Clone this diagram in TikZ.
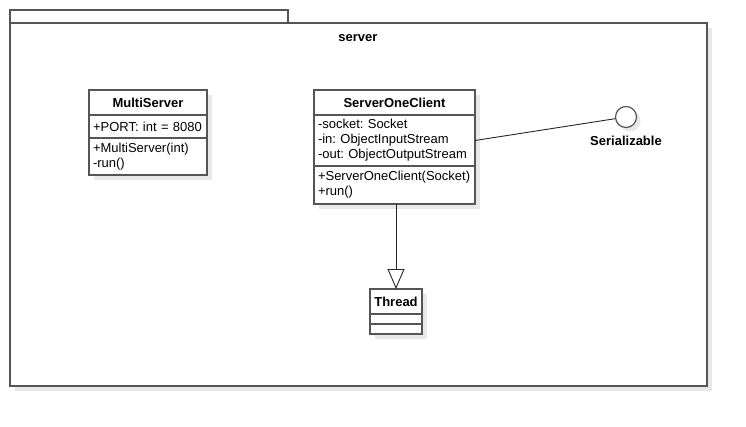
\documentclass[tikz,border=0pt]{standalone}
\usepackage{fontspec}
\setmainfont{Liberation Sans}
\usetikzlibrary{positioning,backgrounds,arrows.meta}

\definecolor{umlgray}{RGB}{85,85,85}
\definecolor{shadegray}{RGB}{232,232,232}

\pgfdeclarelayer{shade}
\pgfsetlayers{background,shade,main}

\tikzset{
  umlbox/.style={draw=umlgray, line width=1.2pt, fill=white, inner sep=0pt, outer sep=0pt},
  classname/.style={umlbox, font=\bfseries, minimum width=#1, minimum height=25pt},
  members/.style={umlbox, align=left, text width=#1, inner xsep=4pt},
  umlline/.style={draw=black!85, line width=0.9pt},
  pkgline/.style={draw=umlgray, line width=1.6pt, fill=white},
  shadow/.style={fill=shadegray, draw=none}
}

\begin{document}
\fontsize{13}{15}\selectfont\frenchspacing
\begin{tikzpicture}[x=1pt, y=-1pt]
  \useasboundingbox (0,0) rectangle (746,426);

% package server
\begin{pgfonlayer}{background}
  \fill[shadow] (15,28) rectangle (712,391);
  \draw[pkgline] (10,10) rectangle (288,23);
  \draw[pkgline] (10,23) rectangle (707,386);
\end{pgfonlayer}
  \node[font=\bfseries] (pkg) at (358,38) {server};

% MultiServer
  \node[classname=118pt] (ms) at (148,102.5) {MultiServer};
  \node[members=110pt, minimum height=23pt, below=0pt of ms] (ms-attr) {+PORT: int = 8080};
  \node[members=110pt, minimum height=37pt, below=0pt of ms-attr] (ms-ops) {+MultiServer(int)\\-run()};

% ServerOneClient
  \node[classname=161pt] (soc) at (394.5,102.5) {ServerOneClient};
  \node[members=153pt, minimum height=51pt, below=0pt of soc] (soc-attr)
    {-socket: Socket\\-in: ObjectInputStream\\-out: ObjectOutputStream};
  \node[members=153pt, minimum height=38pt, below=0pt of soc-attr] (soc-ops)
    {+ServerOneClient(Socket)\\+run()};

% Thread
  \node[classname=52pt] (th) at (396,301.5) {Thread};
  \node[members=44pt, minimum height=10pt, below=0pt of th] (th-attr) {};
  \node[members=44pt, minimum height=10pt, below=0pt of th-attr] (th-ops) {};

% Serializable
  \node[umlbox, circle, minimum size=21pt] (ser) at (626,117) {};
  \node[font=\bfseries] (ser-label) at (626,141) {Serializable};

% shadows
\begin{pgfonlayer}{shade}
  \fill[shadow] ([shift={(5,5)}]ms.north west) rectangle ([shift={(5,5)}]ms-ops.south east);
  \fill[shadow] ([shift={(5,5)}]soc.north west) rectangle ([shift={(5,5)}]soc-ops.south east);
  \fill[shadow] ([shift={(5,5)}]th.north west) rectangle ([shift={(5,5)}]th-ops.south east);
  \fill[shadow] ([shift={(4,4)}]ser.center) circle (10.5);
\end{pgfonlayer}

% connectors
  \draw[umlline, -{Triangle[open, length=20pt, width=17pt, line width=0.9pt]}]
    (soc-ops.south -| th.north) -- (th.north);
  \draw[umlline] (soc-attr.east) -- (ser);

\end{tikzpicture}
\end{document}
